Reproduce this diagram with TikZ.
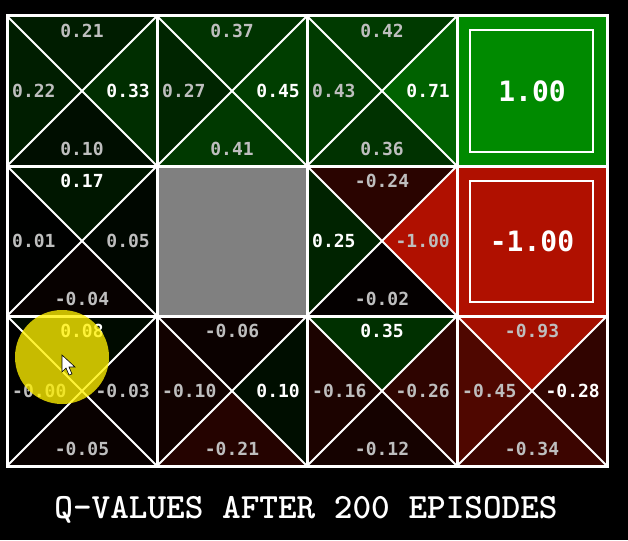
\documentclass[tikz,border=0pt]{standalone}
\usepackage{fontspec}
\newfontfamily\qfont{DejaVu Sans Mono}
\newfontfamily\titlefont{lmmonolt10-bold.otf}

\definecolor{qgreen}{RGB}{0,138,0}
\definecolor{qred}{RGB}{176,16,0}
\definecolor{qgray}{RGB}{190,190,190}
\definecolor{wallgray}{RGB}{128,128,128}
\definecolor{glow}{RGB}{255,240,0}

\tikzset{
  qval/.style={inner sep=0pt, text=qgray, font=\qfont\bfseries\fontsize{18}{18}\selectfont},
  mxn/.style={}, mxe/.style={}, mxs/.style={}, mxw/.style={},
  cross/.style={white, line width=2pt},
  gridline/.style={white, line width=3pt, line cap=rect},
  bigval/.style={inner sep=0pt, text=white, font=\qfont\bfseries\fontsize{28}{28}\selectfont},
}

% shade of one triangle: green for positive, red for negative
\newcommand{\qshade}[1]{%
  \pgfmathsetmacro{\qpct}{abs(#1)*100}%
  \ifdim #1pt<0pt \edef\qcol{qred!\qpct!black}\else\edef\qcol{qgreen!\qpct!black}\fi}

% one state: column, row, north, east, south, west, best action
\newcommand{\qcell}[7]{%
  \begin{scope}[mx#7/.style={text=white}]
  \pgfmathsetmacro{\qx}{7+150*#1}
  \pgfmathsetmacro{\qy}{16+150*#2}
  \coordinate (k#1#2) at (\qx+75,\qy+75);
  \coordinate (nw#1#2) at (\qx,\qy);
  \coordinate (ne#1#2) at (\qx+150,\qy);
  \coordinate (se#1#2) at (\qx+150,\qy+150);
  \coordinate (sw#1#2) at (\qx,\qy+150);
  \qshade{#3}\fill[fill=\qcol] (nw#1#2) -- (ne#1#2) -- (k#1#2) -- cycle;
  \qshade{#4}\fill[fill=\qcol] (ne#1#2) -- (se#1#2) -- (k#1#2) -- cycle;
  \qshade{#5}\fill[fill=\qcol] (se#1#2) -- (sw#1#2) -- (k#1#2) -- cycle;
  \qshade{#6}\fill[fill=\qcol] (sw#1#2) -- (nw#1#2) -- (k#1#2) -- cycle;
  \draw[cross] (nw#1#2) -- (se#1#2) (ne#1#2) -- (sw#1#2);
  \node[qval, mxn] (n#1#2) at (\qx+75,\qy+15) {#3};
  \node[qval, mxe, anchor=east] (e#1#2) at (\qx+143,\qy+75) {#4};
  \node[qval, mxs] (s#1#2) at (\qx+75,\qy+133) {#5};
  \node[qval, mxw, anchor=west] (w#1#2) at (\qx+5,\qy+75) {#6};
  \end{scope}}

\begin{document}
\begin{tikzpicture}[x=1pt, y=-1pt]
  \useasboundingbox (0,0) rectangle (628,540);
  \fill[black] (0,0) rectangle (628,540);

  \qcell{0}{0}{0.21}{0.33}{0.10}{0.22}{e}
  \qcell{1}{0}{0.37}{0.45}{0.41}{0.27}{e}
  \qcell{2}{0}{0.42}{0.71}{0.36}{0.43}{e}
  \qcell{0}{1}{0.17}{0.05}{-0.04}{0.01}{n}
  \qcell{2}{1}{-0.24}{-1.00}{-0.02}{0.25}{w}
  \qcell{0}{2}{0.08}{-0.03}{-0.05}{-0.00}{n}
  \qcell{1}{2}{-0.06}{0.10}{-0.21}{-0.10}{e}
  \qcell{2}{2}{0.35}{-0.26}{-0.12}{-0.16}{n}
  \qcell{3}{2}{-0.93}{-0.28}{-0.34}{-0.45}{e}

  % exits and wall
  \fill[qgreen] (457,16) rectangle (607,166);
  \draw[white, line width=1.5pt] (470,30) rectangle (593,152);
  \node[bigval] (win) at (532,91) {1.00};
  \fill[qred] (457,166) rectangle (607,316);
  \draw[white, line width=1.5pt] (470,181) rectangle (593,302);
  \node[bigval] (lose) at (532,241) {-1.00};
  \fill[wallgray] (157,166) rectangle (307,316);

  \foreach \i in {0,...,4}
    \draw[gridline] (7+150*\i,16) -- (7+150*\i,466);
  \foreach \j in {0,...,3}
    \draw[gridline] (7,16+150*\j) -- (607,16+150*\j);

  % mouse pointer
  \fill[glow, opacity=0.78] (62,357) circle[radius=47];
  \filldraw[fill=white, draw=black, line width=0.6pt] (62,355) -- ++(0,17) -- ++(4,-4)
    -- ++(3,7) -- ++(3,-1) -- ++(-3,-7) -- ++(6,0) -- cycle;

  \node[text=white, font=\titlefont\fontsize{35.5}{35.5}\selectfont] (title) at (306,510)
    {Q-VALUES AFTER 200 EPISODES};
\end{tikzpicture}
\end{document}
